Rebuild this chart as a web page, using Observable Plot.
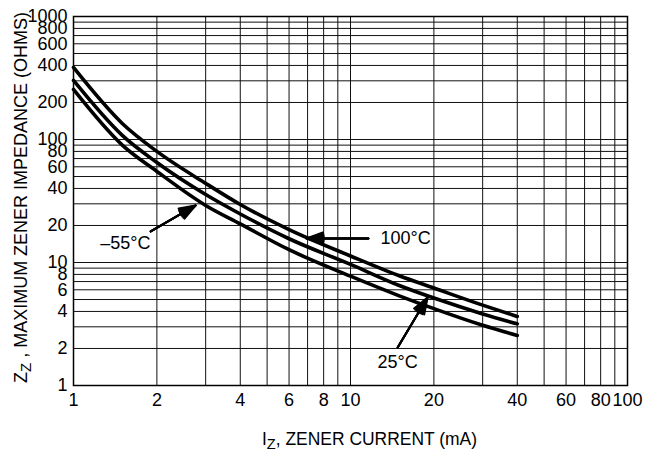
<!DOCTYPE html>
<html><head><meta charset="utf-8">
<script src="https://cdn.jsdelivr.net/npm/d3@7"></script>
<script src="https://cdn.jsdelivr.net/npm/@observablehq/plot@0.6"></script>
<style>
body{margin:0;background:#fff;}
#chart svg{display:block;}
</style></head><body><div id="chart"></div>
<script>
// Zener current (mA)
const currents = [1, 1.5, 2, 3, 4, 6, 10, 15, 20, 30, 40];
// Maximum zener impedance (ohms) per junction temperature
const z100C = [385, 135, 80, 44, 29.6, 18.5, 11.3, 7.8, 6.2, 4.5, 3.64];
const z25C = [302, 108, 65, 35.7, 24.8, 15.6, 9.65, 6.5, 5.14, 3.82, 3.17];
const zMinus55C = [255, 90, 55, 29.1, 20.6, 12.7, 7.74, 5.36, 4.22, 3.09, 2.55];
const seriesNames = ["100°C", "25°C", "−55°C"];

const xTickLabels = [1, 2, 4, 6, 8, 10, 20, 40, 60, 80, 100];
const yTickLabels = [1, 2, 4, 6, 8, 10, 20, 40, 60, 80, 100, 200, 400, 600, 800, 1000];
const xGridValues = [1, 2, 3, 4, 5, 6, 7, 8, 9, 10, 20, 30, 40, 50, 60, 70, 80, 90, 100];
const yGridValues = [1, 2, 3, 4, 5, 6, 7, 8, 9, 10, 20, 30, 40, 50, 60, 70, 80, 90,
  100, 200, 300, 400, 500, 600, 700, 800, 900, 1000];

// Annotation labels and arrows (data coordinates)
const labelText = ["–55°C", "100°C", "25°C"];
const labelX = [1.54, 15.8, 14.8];
const labelY = [14.3, 15.7, 1.54];
const arrowX1 = [1.90, 11.6, 14.8];
const arrowY1 = [17.9, 15.7, 2.04];
const arrowX2 = [2.76, 6.94, 18.97];
const arrowY2 = [29.1, 15.7, 5.19];

const rows = [];
[z100C, z25C, zMinus55C].forEach((vals, k) => {
  currents.forEach((c, i) => rows.push({series: seriesNames[k], current: c, z: vals[i]}));
});
const labels = labelText.map((t, i) => ({t, x: labelX[i], y: labelY[i]}));
const arrows = arrowX1.map((x1, i) => ({x1, y1: arrowY1[i], x2: arrowX2[i], y2: arrowY2[i]}));

const FONT = "'Liberation Sans', Arial, sans-serif";
const headAngles = [40, 30, 20, 10];

const plot = Plot.plot({
  width: 647,
  height: 453,
  marginLeft: 73,
  marginRight: 20,
  marginTop: 16,
  marginBottom: 68,
  style: {fontFamily: FONT, fontSize: "18px", color: "#000", background: "#fff"},
  x: {type: "log", domain: [1, 100], axis: null},
  y: {type: "log", domain: [1, 1000], axis: null},
  marks: [
    Plot.gridX(xGridValues, {stroke: "#111", strokeOpacity: 1, strokeWidth: 1}),
    Plot.gridY(yGridValues, {stroke: "#111", strokeOpacity: 1, strokeWidth: 1}),
    Plot.frame({stroke: "#000", strokeWidth: 1.5}),
    Plot.text(xTickLabels, {x: d => d, frameAnchor: "bottom", dy: 20, text: d => String(d), fontSize: 18, fill: "#000"}),
    Plot.text(yTickLabels, {y: d => d, frameAnchor: "left", dx: -6, textAnchor: "end", text: d => String(d), fontSize: 18, fill: "#000"}),
    Plot.line(rows, {x: "current", y: "z", z: "series", stroke: "#000", strokeWidth: 3.6, curve: "monotone-x"}),
    ...headAngles.map(a => Plot.arrow(arrows, {x1: "x1", y1: "y1", x2: "x2", y2: "y2", stroke: "#000", strokeWidth: 2, headLength: 13, headAngle: a})),
    Plot.text(labels, {x: "x", y: "y", text: "t", fontSize: 18, fill: "#000"})
  ]
});

document.getElementById("chart").appendChild(plot);

// Axis titles with subscripts
const svg = d3.select(plot);
const xt = svg.append("text")
  .attr("x", 369.5).attr("y", 445)
  .attr("text-anchor", "middle")
  .attr("textLength", 215).attr("lengthAdjust", "spacingAndGlyphs")
  .attr("font-family", FONT).attr("font-size", 18).attr("fill", "#000");
xt.append("tspan").text("I");
xt.append("tspan").attr("dy", 4).attr("font-size", 15).text("Z");
xt.append("tspan").attr("dy", -4).text(", ZENER CURRENT (mA)");

const yt = svg.append("text")
  .attr("transform", "translate(27,197.5) rotate(-90)")
  .attr("text-anchor", "middle")
  .attr("textLength", 371).attr("lengthAdjust", "spacingAndGlyphs")
  .attr("font-family", FONT).attr("font-size", 18).attr("fill", "#000");
yt.append("tspan").text("Z");
yt.append("tspan").attr("dy", 4).attr("font-size", 15).text("Z");
yt.append("tspan").attr("dy", -4).text(" , MAXIMUM ZENER IMPEDANCE (OHMS)");
</script>
</body></html>
